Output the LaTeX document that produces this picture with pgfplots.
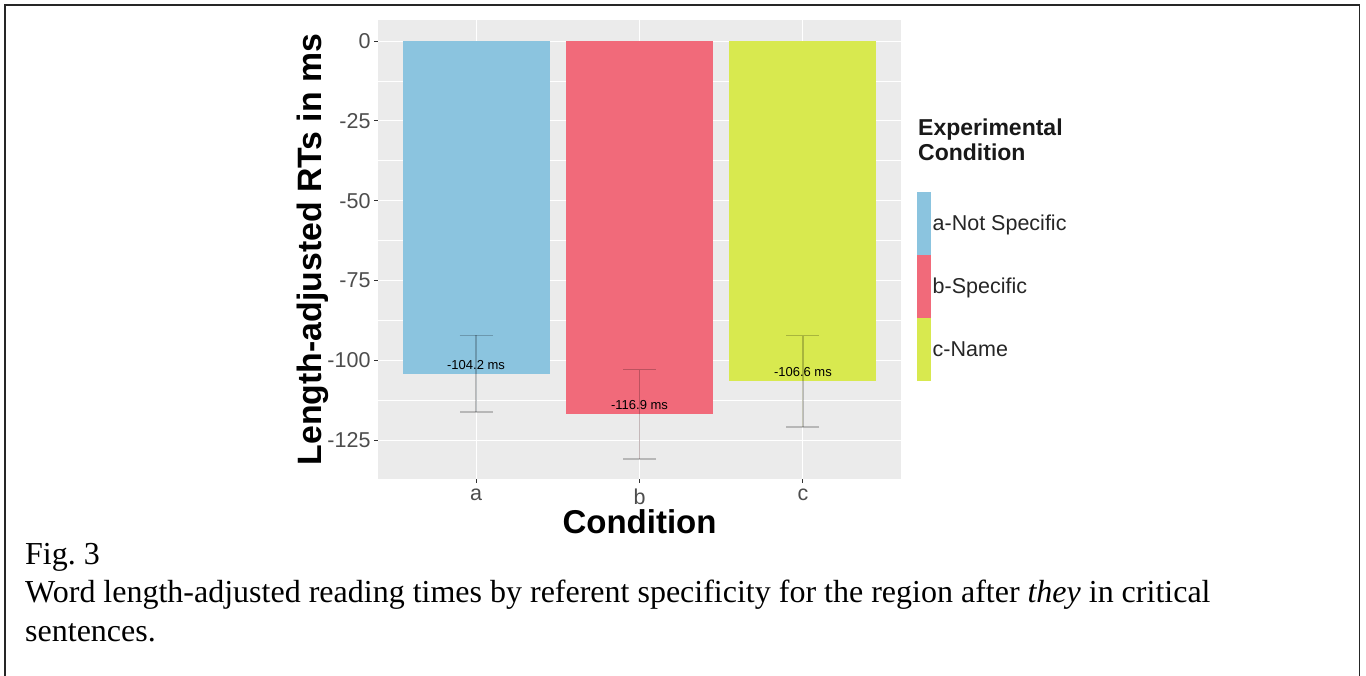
\documentclass[border=0pt]{standalone}
\usepackage{pgfplots}
\pgfplotsset{compat=1.18}
\usepackage{fontspec}
\usepackage{graphicx}
\setmainfont{Liberation Serif}
\newfontfamily\arial{Liberation Sans}
\definecolor{barA}{HTML}{8BC4DF}
\definecolor{barB}{HTML}{F16A7A}
\definecolor{barC}{HTML}{D8E94F}
\definecolor{panel}{HTML}{EBEBEB}
\definecolor{tickgray}{HTML}{333333}
\definecolor{labgray}{HTML}{4D4D4D}
\pgfplotsset{
  errstyle/.style={
    error bars/y dir=both, error bars/y explicit,
    error bars/error bar style={draw=black, draw opacity=0.22, line width=1.5pt},
    error bars/error mark options={rotate=90, mark size=16.5pt, line width=1.5pt, draw=black, draw opacity=0.22},
  },
}
\begin{document}
\begin{tikzpicture}[x=1pt,y=1pt]
\useasboundingbox (0,0) rectangle (1366,675);
\fill[white] (0,0) rectangle (1366,675);
\draw[line width=1.4pt, black!85] (5,-2) -- (5,670) -- (1359.5,670) -- (1359.5,-2);
\begin{axis}[
  at={(378pt,196pt)}, anchor=south west,
  width=523pt, height=459pt, scale only axis,
  xmin=0.4, xmax=3.6, ymin=-137.2, ymax=6.6,
  axis line style={draw=none},
  axis background/.style={fill=panel},
  xtick={1,2,3}, xticklabels={a,b,c},
  ytick={-125,-100,-75,-50,-25,0},
  minor ytick={-112.5,-87.5,-62.5,-37.5,-12.5},
  grid=both,
  major grid style={white, line width=1.1pt},
  minor grid style={white, line width=0.55pt},
  tick align=outside, xtick pos=left, ytick pos=left,
  major tick length=4pt, minor tick length=0pt,
  tick style={color=tickgray, line width=1pt},
  ticklabel style={font=\arial\fontsize{21.5}{25}\selectfont, text=labgray},
  xticklabel style={yshift=-2pt},
  /pgf/number format/assume math mode=true,
  xlabel={Condition}, ylabel={Length-adjusted RTs in ms},
  xlabel style={font=\arial\bfseries\fontsize{33}{40}\selectfont, at={(axis description cs:0.5,-0.0925)}, anchor=center},
  ylabel style={font=\arial\bfseries\fontsize{33.8}{40}\selectfont, at={(axis description cs:-0.1243,0.5)}, anchor=center},
  ybar, bar width=0.9, bar shift=0pt,
  legend style={at={(axis description cs:1.0306,0.6253)}, anchor=north west,
    draw=none, fill=none, inner sep=0pt, row sep=0pt, column sep=0pt,
    font=\arial\fontsize{21.5}{25}\selectfont, nodes={inner sep=1.5pt, text=black!85}},
  legend cell align=left,
  legend image code/.code={\fill[#1] (0pt,-31.5pt) rectangle (14pt,31.5pt);},
  nodes near coords={\pgfmathprintnumber[fixed,fixed zerofill,precision=1]{\pgfplotspointmeta} ms},
  every node near coord/.append style={anchor=center, yshift=9pt, font=\arial\fontsize{13}{15}\selectfont, text=black},
]
\addplot[fill=barA, draw=none, errstyle] coordinates {(1,-104.2) +- (0,12.0)};
\addlegendentry{a-Not Specific}
\addplot[fill=barB, draw=none, errstyle] coordinates {(2,-116.9) +- (0,14.0)};
\addlegendentry{b-Specific}
\addplot[fill=barC, draw=none, errstyle] coordinates {(3,-106.6) +- (0,14.3)};
\addlegendentry{c-Name}
\end{axis}
\node[anchor=base west, inner sep=0pt, font=\arial\bfseries\fontsize{23}{26}\selectfont, text=black!90] at (918,539) {Experimental};
\node[anchor=base west, inner sep=0pt, font=\arial\bfseries\fontsize{23}{26}\selectfont, text=black!90] at (918,514) {Condition};
\node[anchor=base west, inner sep=0pt, font=\fontsize{32}{38}\selectfont] at (25,110) {Fig.\ 3};
\node[anchor=base west, inner sep=0pt, font=\fontsize{32}{38}\selectfont] at (25,72) {Word length-adjusted reading times by referent specificity for the region after \textit{they} in critical};
\node[anchor=base west, inner sep=0pt, font=\fontsize{32}{38}\selectfont] at (25,34) {sentences.};
\end{tikzpicture}
\end{document}
